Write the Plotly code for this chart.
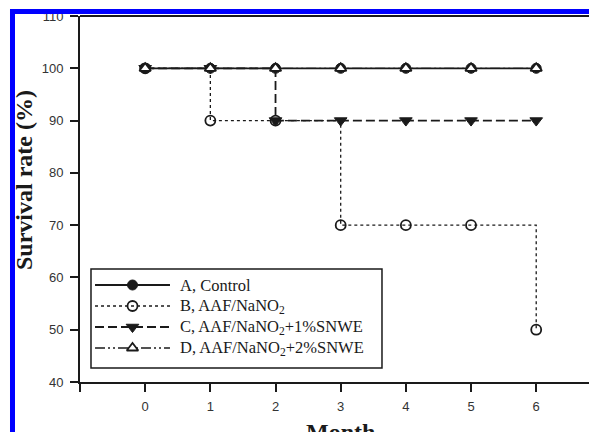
import plotly.graph_objects as go

months = [0, 1, 2, 3, 4, 5, 6]
group_a = [100, 100, 100, 100, 100, 100, 100]
group_b = [100, 90, 90, 70, 70, 70, 50]
group_c = [100, 100, 90, 90, 90, 90, 90]
group_d = [100, 100, 100, 100, 100, 100, 100]

labels = ["A, Control", "B, AAF/NaNO<sub>2</sub>",
          "C, AAF/NaNO<sub>2</sub>+1%SNWE", "D, AAF/NaNO<sub>2</sub>+2%SNWE"]
x_tickvals = [-1, 0, 1, 2, 3, 4, 5, 6]
x_ticktext = ["", "0", "1", "2", "3", "4", "5", "6"]
y_tickvals = [40, 50, 60, 70, 80, 90, 100, 110]

ink = "#1a1a1a"
styles = [
    dict(line=dict(color=ink, width=1.8, dash="solid"),
         marker=dict(symbol="circle", size=10, color=ink, line=dict(color=ink, width=1))),
    dict(line=dict(color=ink, width=1.3, dash="dot"),
         marker=dict(symbol="circle-open", size=10, color=ink, line=dict(color=ink, width=1.8))),
    dict(line=dict(color=ink, width=1.8, dash="9px,4px"),
         marker=dict(symbol="triangle-down", size=11, color=ink, line=dict(color=ink, width=1))),
    dict(line=dict(color=ink, width=1.3, dash="10px,3px,2px,3px,2px,3px"),
         marker=dict(symbol="triangle-up", size=10, color="white", line=dict(color=ink, width=1.8))),
]
series = [group_a, group_b, group_c, group_d]

fig = go.Figure()
for vals, st, name in zip(series, styles, labels):
    fig.add_trace(go.Scatter(x=months, y=vals, mode="lines+markers", line_shape="hv",
                             line=st["line"], marker=st["marker"], name=name,
                             showlegend=False, cliponaxis=False))

# custom legend samples
for i, (st, name) in enumerate(zip(styles, labels)):
    fig.add_trace(go.Scatter(x=[0, 1], y=[i, i], mode="lines", line=st["line"],
                             xaxis="x2", yaxis="y2", showlegend=False, cliponaxis=False))
    fig.add_trace(go.Scatter(x=[0.5], y=[i], mode="markers", marker=st["marker"],
                             xaxis="x2", yaxis="y2", showlegend=False, cliponaxis=False))
    fig.add_annotation(x=0.1925, xref="paper", y=i, yref="y2", text=name, showarrow=False,
                       xanchor="left", yanchor="middle",
                       font=dict(family="Liberation Serif", size=16.5, color=ink))

fig.update_layout(
    width=589, height=432,
    margin=dict(l=80, r=0, t=16, b=50),
    paper_bgcolor="white", plot_bgcolor="white",
    showlegend=False,
    xaxis=dict(range=[-1, 6.81], tickvals=x_tickvals, ticktext=x_ticktext,
               showgrid=False, zeroline=False, showline=True, linecolor=ink, linewidth=2,
               ticks="outside", ticklen=8, tickwidth=1.5, tickcolor=ink,
               ticklabelstandoff=3,
               tickfont=dict(family="Liberation Sans", size=13, color="#333")),
    yaxis=dict(range=[40, 110], tickvals=y_tickvals,
               showgrid=False, zeroline=False, showline=True, linecolor=ink, linewidth=2,
               ticks="outside", ticklen=8, tickwidth=1.5, tickcolor=ink,
               ticklabelstandoff=4,
               tickfont=dict(family="Liberation Sans", size=13, color="#333")),
    xaxis2=dict(domain=[0.0295, 0.1768], range=[0, 1], visible=False, anchor="y2"),
    yaxis2=dict(domain=[0.0642, 0.2937], range=[3.5, -0.5], visible=False, anchor="x2"),
)

fig.add_annotation(x=-0.110, xref="paper", y=0.552, yref="paper", text="<b>Survival rate (%)</b>",
                   textangle=-90, showarrow=False, xanchor="center", yanchor="middle",
                   font=dict(family="Liberation Serif", size=24, color=ink))
fig.add_annotation(x=3, xref="x", y=-0.096, yref="paper", text="<b>Month</b>",
                   showarrow=False, xanchor="center", yanchor="top",
                   font=dict(family="Liberation Serif", size=24, color=ink))

# legend frame
fig.add_shape(type="rect", xref="paper", yref="paper", x0=0.0216, x1=0.5933, y0=0.0383, y1=0.3087,
              line=dict(color=ink, width=1.5), fillcolor="rgba(0,0,0,0)", layer="below")
# top frame line
fig.add_shape(type="line", xref="paper", yref="paper", x0=0, x1=1, y0=1, y1=1,
              line=dict(color=ink, width=2))
# blue border
fig.add_shape(type="rect", xref="paper", yref="paper", x0=-0.13753, x1=1.01, y0=1.00546, y1=1.0191,
              line=dict(width=0), fillcolor="#0000FF", layer="above")
fig.add_shape(type="rect", xref="paper", yref="paper", x0=-0.13753, x1=-0.1277, y0=-0.15, y1=1.0191,
              line=dict(width=0), fillcolor="#0000FF", layer="above")

fig.write_html("out.html", config={"displayModeBar": False},
               post_script="document.body.style.margin='0';document.body.style.overflow='hidden';")
